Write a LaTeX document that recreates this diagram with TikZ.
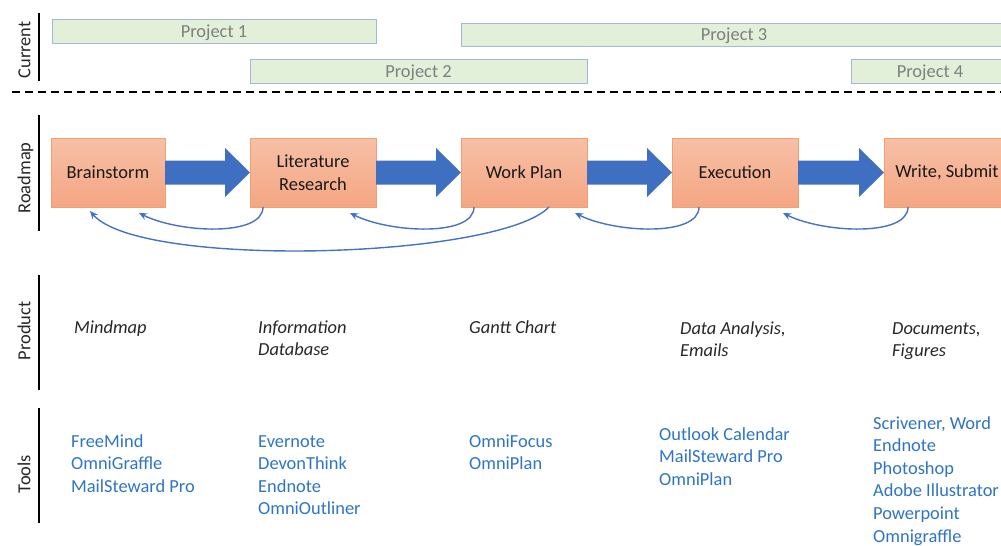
\documentclass[tikz,border=0pt]{standalone}
\usepackage{fontspec}
\setmainfont{Carlito}
\usetikzlibrary{calc,arrows.meta}

\definecolor{projfill}{HTML}{E2EFD9}
\definecolor{projline}{HTML}{A6B6D6}
\definecolor{projtext}{HTML}{7F7F7F}
\definecolor{stagetop}{HTML}{F7C0A6}
\definecolor{stagebottom}{HTML}{F4A683}
\definecolor{stageline}{HTML}{F4A06C}
\definecolor{flowblue}{HTML}{3F6FC0}
\definecolor{backblue}{HTML}{4472C4}
\definecolor{prodtext}{HTML}{262626}
\definecolor{tooltext}{HTML}{2E74C6}

\begin{document}
\begin{tikzpicture}
  [
    x=1pt, y=-1pt,
    inner sep=0pt,
    font=\fontsize{18.4}{22.6}\selectfont,
    lane/.style={line width=2.5pt,black},
    lanelabel/.style={rotate=90,anchor=base,text=prodtext},
    project/.style={rectangle,draw=projline,fill=projfill,text=projtext,minimum height=23.5pt,text depth=0pt,outer sep=0pt},
    stage/.style={rectangle,draw=stageline,top color=stagetop,bottom color=stagebottom,minimum width=126pt,minimum height=69pt,align=center,outer sep=0pt,text=black!90},
    flow/.style={fill=flowblue},
    back/.style={draw=backblue,line width=1.4pt,-{Stealth[length=8pt,width=7pt]}},
    % multi-line nodes sit on the baseline of their last line
    product/.style={anchor=base west,align=left,text=prodtext,font=\fontsize{18.4}{22.6}\selectfont\itshape},
    tool/.style={anchor=base west,align=left,text=tooltext},
  ]
  \clip (0,0) rectangle (1001,546);

  % row labels and separators
  \node[lanelabel] (current) at (30.5,50)  {Current};
  \node[lanelabel] (roadmap) at (30.5,178) {Roadmap};
  \node[lanelabel] (product) at (30.5,331) {Product};
  \node[lanelabel] (tools)   at (30.5,474) {Tools};
  \draw[lane] (39,13)  -- (39,81);
  \draw[lane] (39,115) -- (39,231);
  \draw[lane] (39,275) -- (39,390);
  \draw[lane] (39,408) -- (39,523);
  \draw[line width=2.5pt,dash pattern=on 7.5pt off 5.5pt] (12,92) -- (1001,92);

  % current projects
  \node[project,minimum width=324pt] (p1) at (214,31)   {Project 1};
  \node[project,minimum width=337pt] (p2) at (418.5,71) {Project 2};
  \node[project,minimum width=546pt] (p3) at (734,34.5) {Project 3};
  \node[project,minimum width=158pt] (p4) at (930,71)   {Project 4};

  % roadmap
  \node[stage,minimum width=114pt] (brain) at (108,172.5) {Brainstorm};
  \node[stage] (lit)   at (313,172.5) {Literature\\Research};
  \node[stage] (plan)  at (524,172.5) {Work Plan};
  \node[stage] (exec)  at (735,172.5) {Execution};
  \node[stage] (write) at (947,172.5) {Write, Submit};

  \foreach \a/\b in {brain/lit,lit/plan,plan/exec,exec/write}
    \fill[flow] ($(\a.east)+(0,-12)$) -- ($(\b.west)+(-25,-12)$) -- ($(\b.west)+(-25,-24.5)$)
      -- (\b.west) -- ($(\b.west)+(-25,24.5)$) -- ($(\b.west)+(-25,12)$) -- ($(\a.east)+(0,12)$) -- cycle;

  % going back a step
  \draw[back] ([xshift=13pt]lit.south west) .. controls +(0,30) and +(40,20) .. ([xshift=-26pt,yshift=-6pt]brain.south east);
  \draw[back] ([xshift=13pt]plan.south west) .. controls +(0,30) and +(40,20) .. ([xshift=-26pt,yshift=-6pt]lit.south east);
  \draw[back] ([xshift=27pt]exec.south west) .. controls +(0,30) and +(40,20) .. ([xshift=-12pt,yshift=-6pt]plan.south east);
  \draw[back] ([xshift=24pt]write.south west) .. controls +(0,30) and +(40,20) .. ([xshift=-15pt,yshift=-6pt]exec.south east);
  \draw[back] ([xshift=-38pt]plan.south east) .. controls +(-50,52) and +(50,58) .. ([xshift=39pt,yshift=-4pt]brain.south west);

  % products
  \node[product] (mindmap)  at (74,333)    {Mindmap};
  \node[product] (infodb)   at (258,355.6) {Information\\Database};
  \node[product] (gantt)    at (469,333)   {Gantt Chart};
  \node[product] (analysis) at (680,356.6) {Data Analysis,\\Emails};
  \node[product] (docs)     at (892,356.6) {Documents,\\Figures};

  % tools
  \node[tool] (tools1) at (71,492.2)  {FreeMind\\OmniGraffle\\MailSteward Pro};
  \node[tool] (tools2) at (258,514.8) {Evernote\\DevonThink\\Endnote\\OmniOutliner};
  \node[tool] (tools3) at (469,469.6) {OmniFocus\\OmniPlan};
  \node[tool] (tools4) at (659,485.2) {Outlook Calendar\\MailSteward Pro\\OmniPlan};
  \node[tool] (tools5) at (873,542)   {Scrivener, Word\\Endnote\\Photoshop\\Adobe Illustrator\\Powerpoint\\Omnigraffle};
\end{tikzpicture}
\end{document}
